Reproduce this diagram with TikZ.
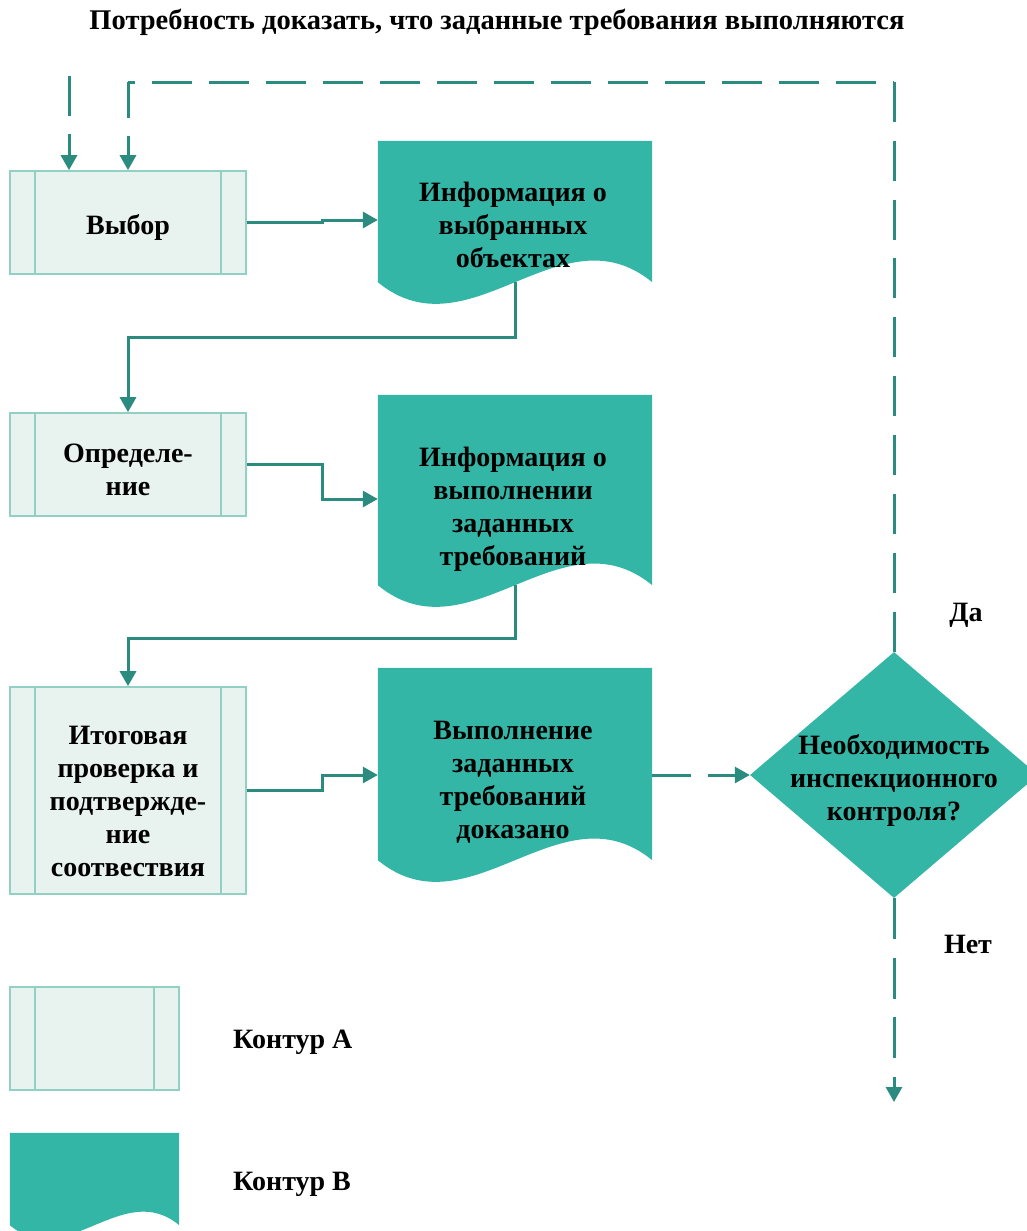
\documentclass[tikz,border=0pt]{standalone}
\usepackage{fontspec}
\setmainfont{Liberation Serif}
\usetikzlibrary{arrows.meta,calc,shapes.geometric}

\definecolor{procfill}{RGB}{232,242,239}
\definecolor{procline}{RGB}{146,208,196}
\definecolor{docfill}{RGB}{51,182,166}
\definecolor{flowline}{RGB}{42,139,126}

\tikzset{
  procbox/.style={draw=procline, fill=procfill, line width=1.6pt,
    minimum width=236pt, inner sep=0pt,
    path picture={
      \draw[procline, line width=1.6pt]
        ([xshift=25pt]path picture bounding box.north west) -- ([xshift=25pt]path picture bounding box.south west)
        ([xshift=-25pt]path picture bounding box.north east) -- ([xshift=-25pt]path picture bounding box.south east);}},
  docbox/.style={inner sep=0pt, minimum width=274pt},
  decbox/.style={diamond, fill=docfill, inner sep=0pt,
    minimum width=288pt, minimum height=246pt},
  txt/.style={font=\bfseries\fontsize{28}{33}\selectfont, align=center, inner sep=0pt},
  flowline/.style={draw=flowline, line width=3pt},
  flow/.style={flowline, -{Triangle[length=15pt,width=16pt]}},
  flowdash/.style={flow, dash pattern=on 40pt off 18pt},
}

% document symbol with a wavy bottom edge, filled behind node #1
\newcommand\wavydoc[2]{%
  \fill[docfill] (#1.north west) -- (#1.north east) -- (#1.south east)
    .. controls ($(#1.south west)!0.6667!(#1.south east)+(0,-#2)$)
    and ($(#1.south west)!0.3333!(#1.south east)+(0,#2)$) .. (#1.south west) -- cycle;}

\begin{document}
\begin{tikzpicture}[x=1pt, y=-1pt]
  \useasboundingbox (0,0) rectangle (1027,1231);
  \clip (0,0) rectangle (1027,1231);

  % title
  \node[txt, font=\bfseries\fontsize{28.5}{33}\selectfont] (title) at (497,22)
    {Потребность доказать, что заданные требования выполняются};

  % process boxes (contour A)
  \node[procbox, minimum height=103pt] (vybor) at (128,222.5) {};
  \node[procbox, minimum height=103pt] (opr) at (128,464.5) {};
  \node[procbox, minimum height=207pt] (itog) at (128,790.5) {};
  \node[txt] (t-vybor) at (128,227.5) {Выбор};
  \node[txt] (t-opr) at (128,470) {Определе-\\ние};
  \node[txt] (t-itog) at (128,801) {Итоговая\\проверка и\\подтвержде-\\ние\\соотвествия};

  % documents (contour B)
  \node[docbox, minimum height=141pt] (d1) at (515,211.5) {};
  \node[docbox, minimum height=190pt] (d2) at (515,490) {};
  \node[docbox, minimum height=192pt] (d3) at (515,764) {};
  \wavydoc{d1}{75}
  \wavydoc{d2}{75}
  \wavydoc{d3}{75}
  \node[txt] (t-d1) at (513,225) {Информация о\\выбранных\\объектах};
  \node[txt] (t-d2) at (513,509.5) {Информация о\\выполнении\\заданных\\требований};
  \node[txt] (t-d3) at (513,782.5) {Выполнение\\заданных\\требований\\доказано};

  % decision
  \node[decbox] (dec) at (894,775) {};
  \node[txt] (t-dec) at (894,780.5) {Необходимость\\инспекционного\\контроля?};
  \node[txt] (yes) at (966,615) {Да};
  \node[txt] (no) at (968,944) {Нет};

  % legend
  \node[procbox, minimum width=169pt, minimum height=103pt] (legA) at (94.5,1038.5) {};
  \node[docbox, minimum width=169pt, minimum height=92pt] (legB) at (94.5,1179) {};
  \wavydoc{legB}{47}
  \node[txt, anchor=west] (t-legA) at (233,1042) {Контур А};
  \node[txt, anchor=west] (t-legB) at (233,1184) {Контур В};

  % free ends and corners of the dashed connectors
  \coordinate (input) at (69,76);
  \coordinate (exit) at (894,1102);
  \coordinate (loopR) at (dec.north |- 0,82);
  \coordinate (loopL) at (vybor.north |- 0,82);

  % solid flow
  \draw[flow] (vybor.east) -- ++(76,0) |- ([yshift=-8.5pt]d1.west);
  \draw[flow] (d1.south) -- ++(0,55) -| (opr.north);
  \draw[flow] (opr.east) -- ++(76,0) |- ([yshift=-9pt]d2.west);
  \draw[flow] (d2.south) -- ++(0,53) -| (itog.north);
  \draw[flow] (itog.east) -- ++(76,0) |- ([yshift=-11pt]d3.west);

  % dashed flow
  \draw[flowdash, dash pattern=on 39pt off 17pt] (d3.east |- dec.west) -- (dec.west);
  \draw[flowline, dash pattern=on 40pt off 18.89pt] (dec.north) -- (loopR);
  \draw[flowline, dash pattern=on 40pt off 17pt, dash phase=33pt] (loopL) -- (loopR);
  \draw[flowdash, dash pattern=on 36pt off 18pt] (loopL) -- (vybor.north);
  \draw[flowdash] (input) -- (input |- vybor.north);
  \draw[flowdash, dash pattern=on 41pt off 18.5pt] (dec.south) -- (exit);
\end{tikzpicture}
\end{document}
